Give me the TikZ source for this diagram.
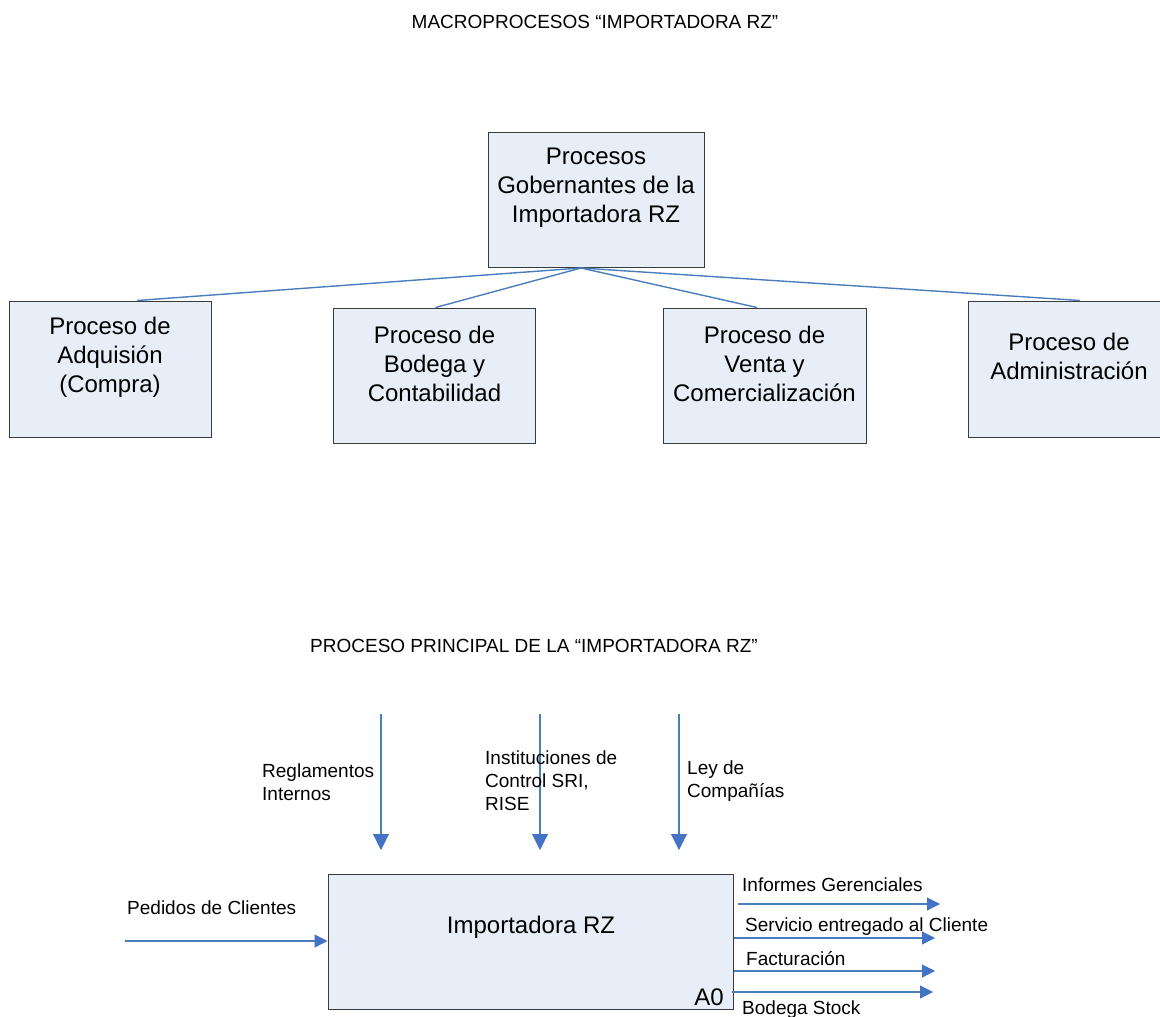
\documentclass[tikz,border=0pt]{standalone}
\usepackage{fontspec}
\setmainfont{Liberation Sans}
\usetikzlibrary{arrows.meta,calc}
\definecolor{boxfill}{HTML}{E8EEF7}
\definecolor{boxline}{HTML}{3A3A3A}
\definecolor{flow}{HTML}{4A7EBB}
\definecolor{tipblue}{HTML}{4472C4}
\begin{document}
\begin{tikzpicture}[x=1pt,y=-1pt,
  procbox/.style={rectangle,draw=boxline,fill=boxfill,line width=1pt,inner sep=0pt},
  bigtext/.style={align=center,inner sep=0pt,font=\fontsize{24}{29}\selectfont},
  smalltext/.style={align=left,inner sep=0pt,font=\fontsize{19}{23}\selectfont},
  tree/.style={draw=flow,line width=1.4pt},
  vflow/.style={draw=flow,line width=1.1pt,-{Triangle[length=16pt,width=16pt,color=tipblue]}},
  hflow/.style={draw=flow,line width=1.1pt,-{Triangle[length=13pt,width=13pt,color=tipblue]}}]
\useasboundingbox (0,0) rectangle (1160,1017);
\fill[white] (0,0) rectangle (1160,1017);

% ---------- macroprocesses ----------
\node[smalltext,anchor=center] (title1) at (595,22) {MACROPROCESOS “IMPORTADORA RZ”};

\node[procbox,minimum width=216pt,minimum height=135pt] (gob) at (596,199.5) {};
\node[bigtext] (gobt) at (596,188) {Procesos\\Gobernantes de la\\Importadora RZ};

\node[procbox,minimum width=202pt,minimum height=136pt] (adq) at (110,369) {};
\node[bigtext] (adqt) at (110,357) {Proceso de\\Adquisión\\(Compra)};

\node[procbox,minimum width=202pt,minimum height=135pt] (bod) at (434.5,375.5) {};
\node[bigtext] (bodt) at (434.5,363.5) {Proceso de\\Bodega y\\Contabilidad};

\node[procbox,minimum width=203pt,minimum height=135pt] (ven) at (764.5,375.5) {};
\node[bigtext] (vent) at (764.5,363.5) {Proceso de\\Venta y\\Comercialización};

\node[procbox,minimum width=202pt,minimum height=136pt] (adm) at (1069,369) {};
\node[bigtext] (admt) at (1069,356) {Proceso de\\Administración};

\coordinate (hub) at ($(gob.south)+(-15,0.5)$);
\draw[tree] (hub) -- ($(adq.north west)!0.634!(adq.north east)$);
\draw[tree] (hub) -- ($(bod.north west)!0.505!(bod.north east)$);
\draw[tree] (hub) -- ($(ven.north west)!0.463!(ven.north east)$);
\draw[tree] (hub) -- ($(adm.north west)!0.554!(adm.north east)$);

% ---------- main process ----------
\node[smalltext,anchor=center] (title2) at (534,646) {PROCESO PRINCIPAL DE LA “IMPORTADORA RZ”};

\node[procbox,minimum width=405pt,minimum height=135pt] (main) at (530.5,941.5) {};
\node[bigtext] (maint) at (531,927.5) {Importadora RZ};
\node[bigtext,anchor=south east] (a0) at (724,1006) {A0};

% controls
\coordinate (c1s) at (381,714); \coordinate (c1e) at (381,850);
\coordinate (c2s) at (540,714); \coordinate (c2e) at (540,850);
\coordinate (c3s) at (679,714); \coordinate (c3e) at (679,850);
\draw[vflow] (c1s) -- (c1e);
\draw[vflow] (c2s) -- (c2e);
\draw[vflow] (c3s) -- (c3e);
\node[smalltext,anchor=west] (reg) at (262,782) {Reglamentos\\Internos};
\node[smalltext,anchor=west] (inst) at (485,780.5) {Instituciones de\\Control SRI,\\RISE};
\node[smalltext,anchor=west] (ley) at (687,781) {Ley de\\Compañías};

% input
\coordinate (inS) at (125,941);
\draw[hflow] (inS) -- (main.west |- inS);
\node[smalltext,anchor=base west] (ped) at (127,914) {Pedidos de Clientes};

% outputs
\coordinate (o1s) at (738,904); \coordinate (o1e) at (940,904);
\coordinate (o2e) at (935,938);
\coordinate (o3e) at (935,971);
\coordinate (o4e) at (933,992);
\draw[hflow] (o1s) -- (o1e);
\draw[hflow] (main.east |- o2e) -- (o2e);
\draw[hflow] (main.east |- o3e) -- (o3e);
\draw[hflow] ([xshift=-2pt]main.east |- o4e) -- (o4e);
\node[smalltext,anchor=base west] (inf) at (742,891) {Informes Gerenciales};
\node[smalltext,anchor=base west] (ser) at (745,931) {Servicio entregado al Cliente};
\node[smalltext,anchor=base west] (fac) at (746,965) {Facturación};
\node[smalltext,anchor=base west] (bst) at (742,1014) {Bodega Stock};
\end{tikzpicture}
\end{document}
